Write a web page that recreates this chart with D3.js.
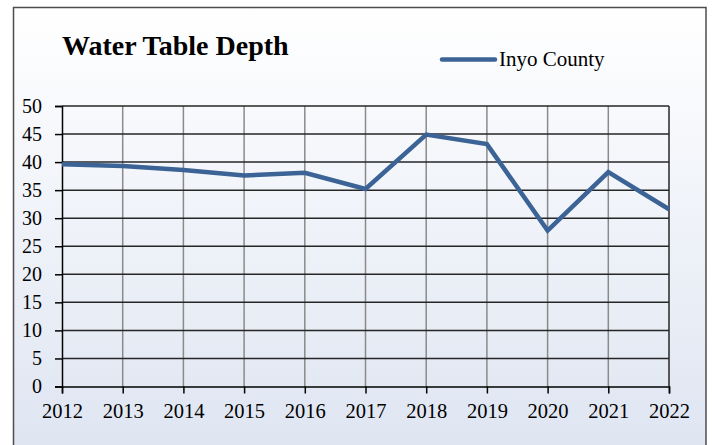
<!DOCTYPE html>
<meta charset="utf-8">
<head>
  <title>water-table-depth</title>
</head>
<style>
  body { margin: 0; background: #fff; }
  text { font-family: "Liberation Serif", "Times New Roman", serif; fill: #000; }
</style>
<body>
  <div id="content">
    <svg width="712" height="445"></svg>
  </div>

  <script src="https://cdnjs.cloudflare.com/ajax/libs/d3/7.8.5/d3.min.js"></script>

  <script>
    var years = [2012, 2013, 2014, 2015, 2016, 2017, 2018, 2019, 2020, 2021, 2022];
    var depth = [39.6, 39.3, 38.6, 37.6, 38.1, 35.2, 44.9, 43.2, 27.8, 38.2, 31.6];
    var yTicks = [0, 5, 10, 15, 20, 25, 30, 35, 40, 45, 50];
    var seriesName = 'Inyo County';

    var svg = d3.select('svg');
    var lineColor = '#3b6395';

    var defs = svg.append('defs');
    var grad = defs.append('linearGradient')
      .attr('id', 'bg')
      .attr('x1', 0).attr('y1', 0).attr('x2', 0).attr('y2', 1);
    grad.append('stop').attr('offset', '0%').attr('stop-color', '#ffffff');
    grad.append('stop').attr('offset', '100%').attr('stop-color', '#dde4f1');

    // chart area with border
    svg.append('rect')
      .attr('x', 13.5).attr('y', 7.5)
      .attr('width', 692.5).attr('height', 460)
      .attr('fill', 'url(#bg)')
      .attr('stroke', '#4d4d4d')
      .attr('stroke-width', 1.5);

    var plotLeft = 62, plotRight = 669, plotTop = 106, plotBottom = 386.5;

    var x = d3.scalePoint().domain(years).range([plotLeft, plotRight]);
    var y = d3.scaleLinear().domain([0, 50]).range([plotBottom, plotTop]);

    // vertical gridlines
    svg.append('g').selectAll('line')
      .data(years.slice(1, -1))
      .enter().append('line')
      .attr('x1', function(d) { return x(d); })
      .attr('x2', function(d) { return x(d); })
      .attr('y1', plotTop).attr('y2', plotBottom)
      .attr('stroke', '#8a8a8a')
      .attr('stroke-width', 1.5);

    // horizontal gridlines
    svg.append('g').selectAll('line')
      .data(yTicks.slice(1))
      .enter().append('line')
      .attr('x1', plotLeft).attr('x2', plotRight)
      .attr('y1', function(d) { return y(d); })
      .attr('y2', function(d) { return y(d); })
      .attr('stroke', '#262626')
      .attr('stroke-width', 1.5);

    // right border of plot
    svg.append('line')
      .attr('x1', plotRight).attr('x2', plotRight)
      .attr('y1', plotTop).attr('y2', plotBottom)
      .attr('stroke', '#262626')
      .attr('stroke-width', 1.5);

    // y axis
    var yAxis = svg.append('g')
      .attr('transform', 'translate(' + plotLeft + ',0)')
      .call(d3.axisLeft(y).tickValues(yTicks).tickSize(7).tickPadding(13));
    yAxis.select('.domain').attr('stroke', '#000').attr('stroke-width', 1.5);
    yAxis.selectAll('.tick line').attr('stroke', '#000').attr('stroke-width', 1.5);
    yAxis.selectAll('.tick text')
      .attr('font-family', '"Liberation Serif", "Times New Roman", serif')
      .attr('font-size', 20)
      .attr('fill', '#000')
      .attr('dy', '0.32em');

    // x axis
    var xAxis = svg.append('g')
      .attr('transform', 'translate(0,' + plotBottom + ')')
      .call(d3.axisBottom(x).tickSize(7).tickPadding(10));
    xAxis.select('.domain').attr('stroke', '#000').attr('stroke-width', 1.5);
    xAxis.selectAll('.tick line').attr('stroke', '#000').attr('stroke-width', 1.5);
    xAxis.selectAll('.tick text')
      .attr('font-family', '"Liberation Serif", "Times New Roman", serif')
      .attr('font-size', 20.5)
      .attr('fill', '#000');

    // data line
    var line = d3.line()
      .x(function(d, i) { return x(years[i]); })
      .y(function(d) { return y(d); });

    svg.append('path')
      .datum(depth)
      .attr('d', line)
      .attr('fill', 'none')
      .attr('stroke', lineColor)
      .attr('stroke-width', 4.5)
      .attr('stroke-linejoin', 'miter');

    // title
    svg.append('text')
      .attr('x', 62).attr('y', 55)
      .attr('font-size', 28)
      .attr('font-weight', 'bold')
      .text('Water Table Depth');

    // legend
    svg.append('line')
      .attr('x1', 442).attr('x2', 495)
      .attr('y1', 59.5).attr('y2', 59.5)
      .attr('stroke', lineColor)
      .attr('stroke-width', 4.5)
      .attr('stroke-linecap', 'round');
    svg.append('text')
      .attr('x', 499).attr('y', 66)
      .attr('font-size', 21)
      .text(seriesName);
  </script>
</body>
</html>
